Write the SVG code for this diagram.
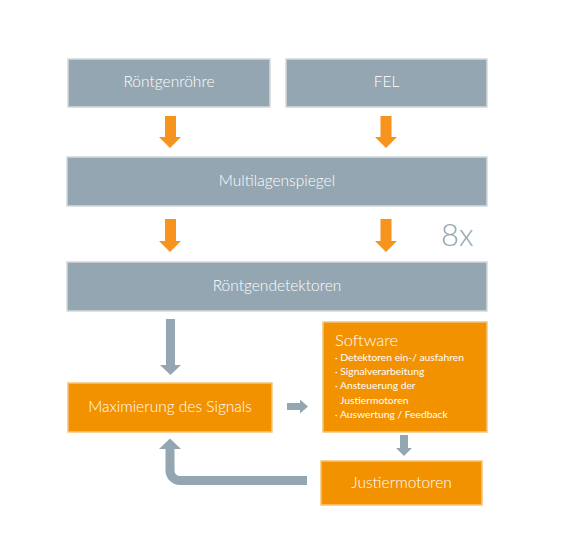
<svg xmlns="http://www.w3.org/2000/svg" width="561" height="557" viewBox="0 0 561 557">
<style>
.g{fill:#94a6b1;stroke:#d3d9dc;stroke-width:1.5}
.o{fill:#f39200;stroke:#f8c27a;stroke-width:1.5}
.t{fill:#ffffff;font-family:Lato,"Liberation Sans",sans-serif;font-weight:300;font-size:15.5px;text-anchor:middle}
.s{fill:#ffffff;font-family:Lato,"Liberation Sans",sans-serif;font-weight:400;font-size:10.3px}
.ao{fill:#f7941d}
.ag{fill:#94a6b1}
</style>
<rect width="561" height="557" fill="#ffffff"/>
<g id="roentgenroehre"><rect class="g" x="68" y="59" width="202" height="48"/><text class="t" x="169" y="87">Röntgenröhre</text></g>
<g id="fel"><rect class="g" x="286" y="59" width="201" height="48"/><text class="t" x="386.5" y="87">FEL</text></g>
<g id="multilagenspiegel"><rect class="g" x="67" y="157" width="420" height="49"/><text class="t" x="277" y="186">Multilagenspiegel</text></g>
<g id="roentgendetektoren"><rect class="g" x="67" y="262" width="420" height="49"/><text class="t" x="277" y="291">Röntgendetektoren</text></g>
<g id="maximierung"><rect class="o" x="68" y="383" width="204" height="49"/><text class="t" x="170" y="412">Maximierung des Signals</text></g>
<g id="software"><rect class="o" x="323" y="322" width="164" height="110"/>
<text class="s" x="335" y="346" style="font-size:16.5px;font-weight:300">Software</text>
<text class="s" x="335" y="361">· Detektoren ein-/ ausfahren</text>
<text class="s" x="335" y="375">· Signalverarbeitung</text>
<text class="s" x="335" y="389">· Ansteuerung der</text>
<text class="s" x="340" y="404">Justiermotoren</text>
<text class="s" x="335" y="418">· Auswertung / Feedback</text>
</g>
<g id="justiermotoren"><rect class="o" x="321" y="461" width="161" height="44"/><text class="t" x="401.5" y="488">Justiermotoren</text></g>
<g id="label8x"><text x="441" y="246" style="fill:#94a6b1;font-family:Lato,'Liberation Sans',sans-serif;font-weight:300;font-size:31px">8x</text></g>
<g id="connectors">
<polygon class="ao" points="165,116 176,116 176,137 181,137 170,148 159,137 165,137"/>
<polygon class="ao" points="380.5,116 391.5,116 391.5,137 397,137 386,148 375,137 380.5,137"/>
<polygon class="ao" points="165,219 176,219 176,241 181,241 170,252 159,241 165,241"/>
<polygon class="ao" points="380.5,219 391.5,219 391.5,241 397,241 386,252 375,241 380.5,241"/>
<polygon class="ag" points="166,319 175,319 175,365 181,365 170.5,375 160,365 166,365"/>
<polygon class="ag" points="287,403 300,403 300,399.5 308,406.5 300,413.5 300,410 287,410"/>
<polygon class="ag" points="400,435 408,435 408,448 412,448 404,456 396,448 400,448"/>
<path d="M307,480.5 H180 A10,10 0 0 1 170,470.5 V448" fill="none" stroke="#94a6b1" stroke-width="9"/>
<polygon class="ag" points="159,449 181,449 170,438.5"/>
</g>
</svg>
